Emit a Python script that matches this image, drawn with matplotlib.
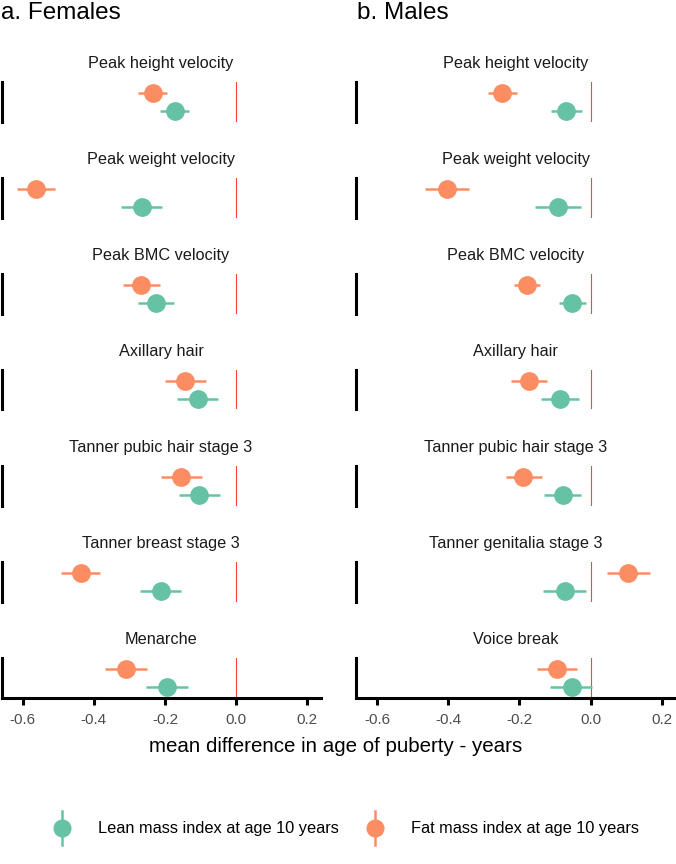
import matplotlib
matplotlib.use('Agg')
import matplotlib.pyplot as plt
from matplotlib.lines import Line2D
from matplotlib.legend_handler import HandlerBase
import numpy as np

plt.rcParams['font.family'] = ['Liberation Sans', 'DejaVu Sans']

# outcomes (facet titles), top to bottom
outcomes_f = ['Peak height velocity', 'Peak weight velocity', 'Peak BMC velocity', 'Axillary hair',
              'Tanner pubic hair stage 3', 'Tanner breast stage 3', 'Menarche']
outcomes_m = ['Peak height velocity', 'Peak weight velocity', 'Peak BMC velocity', 'Axillary hair',
              'Tanner pubic hair stage 3', 'Tanner genitalia stage 3', 'Voice break']

# females: lean mass index (estimate, lower, upper)
lean_f = [-0.173, -0.266, -0.226, -0.108, -0.103, -0.212, -0.195]
lean_f_lo = [-0.213, -0.323, -0.277, -0.165, -0.160, -0.269, -0.254]
lean_f_hi = [-0.132, -0.208, -0.176, -0.050, -0.046, -0.156, -0.135]
# females: fat mass index
fat_f = [-0.235, -0.563, -0.268, -0.143, -0.155, -0.437, -0.311]
fat_f_lo = [-0.276, -0.617, -0.319, -0.201, -0.212, -0.492, -0.368]
fat_f_hi = [-0.193, -0.509, -0.215, -0.084, -0.096, -0.382, -0.251]

# males: lean mass index
lean_m = [-0.068, -0.092, -0.053, -0.086, -0.079, -0.073, -0.051]
lean_m_lo = [-0.110, -0.157, -0.090, -0.139, -0.131, -0.134, -0.114]
lean_m_hi = [-0.024, -0.027, -0.013, -0.033, -0.027, -0.012, 0.003]
# males: fat mass index
fat_m = [-0.248, -0.404, -0.178, -0.174, -0.189, 0.106, -0.095]
fat_m_lo = [-0.289, -0.466, -0.215, -0.224, -0.239, 0.047, -0.152]
fat_m_hi = [-0.206, -0.341, -0.142, -0.122, -0.138, 0.167, -0.038]

xticks = [-0.6, -0.4, -0.2, 0.0, 0.2]
green = '#66C2A5'
orange = '#FC8D62'

W, H = 676, 864
fig = plt.figure(figsize=(W / 100, H / 100), dpi=100)


def px_axes(x0, y0, w, h):
    # pixel box (top-left origin) -> figure axes
    return fig.add_axes([x0 / W, 1 - (y0 + h) / H, w / W, h / H])


def draw_col(x0, titles, le, le_lo, le_hi, fa, fa_lo, fa_hi):
    for i in range(7):
        ax = px_axes(x0, 82 + 96 * i, 319, 39.5)
        ax.axvline(0, color='#FF4040', lw=0.8, zorder=1)
        ax.errorbar([le[i]], [0], xerr=[[le[i] - le_lo[i]], [le_hi[i] - le[i]]], fmt='o',
                    color=green, ms=12.5, elinewidth=1.8, capsize=0, zorder=3)
        ax.errorbar([fa[i]], [1], xerr=[[fa[i] - fa_lo[i]], [fa_hi[i] - fa[i]]], fmt='o',
                    color=orange, ms=12.5, elinewidth=1.8, capsize=0, zorder=3)
        ax.set_xlim(-0.66, 0.2375)
        ax.set_ylim(-0.6, 1.6)
        ax.set_yticks([])
        for s in ['top', 'right']:
            ax.spines[s].set_visible(False)
        ax.spines['left'].set_linewidth(2.2)
        ax.set_title(titles[i], fontsize=11.7, color='#1A1A1A', pad=10)
        if i < 6:
            ax.spines['bottom'].set_visible(False)
            ax.set_xticks([])
        else:
            ax.spines['bottom'].set_linewidth(2.2)
            ax.set_xticks(xticks)
            ax.set_xticklabels(['%.1f' % t for t in xticks])
            ax.tick_params(axis='x', length=5, width=2.2, colors='black', labelcolor='#4D4D4D',
                           labelsize=11, pad=6)


draw_col(1.5, outcomes_f, lean_f, lean_f_lo, lean_f_hi, fat_f, fat_f_lo, fat_f_hi)
draw_col(356, outcomes_m, lean_m, lean_m_lo, lean_m_hi, fat_m, fat_m_lo, fat_m_hi)

fig.text(1 / W, 1 - 13 / H, 'a. Females', fontsize=17.5, va='center', ha='left')
fig.text(357 / W, 1 - 13 / H, 'b. Males', fontsize=17.5, va='center', ha='left')
fig.text(336 / W, 1 - 747 / H, 'mean difference in age of puberty - years', fontsize=14.8,
         ha='center', va='center')


class HandlerPointRange(HandlerBase):
    def create_artists(self, legend, orig, xdescent, ydescent, width, height, fontsize, trans):
        cx = width / 2 - xdescent
        cy = height / 2 - ydescent
        vline = Line2D([cx, cx], [cy - 17 * 0.72, cy + 17 * 0.72], color=orig.get_color(),
                       lw=1.8, transform=trans)
        pt = Line2D([cx], [cy], marker='o', ms=12, color=orig.get_color(),
                    lw=0, transform=trans)
        return [vline, pt]


handles = [Line2D([], [], color=green), Line2D([], [], color=orange)]
labels = ['Lean mass index at age 10 years', 'Fat mass index at age 10 years']
fig.legend(handles, labels, loc='center', bbox_to_anchor=(346.7 / W, 1 - 829 / H), ncol=2,
           frameon=False, fontsize=11.8, handler_map={Line2D: HandlerPointRange()},
           handlelength=1.0, handletextpad=1.7, columnspacing=1.7)

fig.savefig('out.png', dpi=100)
